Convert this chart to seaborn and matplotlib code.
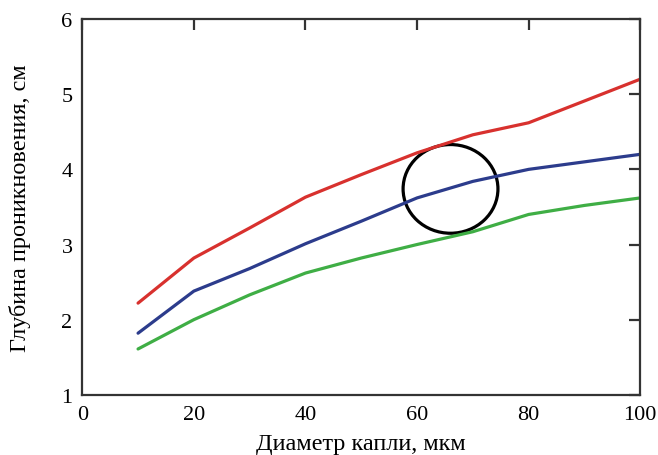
import numpy as np
import pandas as pd
import matplotlib
matplotlib.use('Agg')
import matplotlib.pyplot as plt
import seaborn as sns
from matplotlib.patches import Ellipse

# Values
diameter = [10, 20, 30, 40, 50, 60, 70, 80, 90, 100]
depth_red = [2.22, 2.82, 3.22, 3.63, 3.93, 4.22, 4.46, 4.62, 4.91, 5.2]
depth_blue = [1.82, 2.38, 2.68, 3.01, 3.31, 3.62, 3.84, 4.0, 4.1, 4.2]
depth_green = [1.61, 2.0, 2.33, 2.62, 2.82, 3.0, 3.17, 3.4, 3.52, 3.62]

line_colors = ['#d8312e', '#2c3c8c', '#3fae45']

sns.set_theme(style='white')
plt.rcParams['font.family'] = ['Liberation Serif', 'DejaVu Serif']

df = pd.DataFrame({
    'd': diameter * 3,
    'depth': depth_red + depth_blue + depth_green,
    'series': ['red'] * 10 + ['blue'] * 10 + ['green'] * 10,
})

fig, ax = plt.subplots(figsize=(6.58, 4.56), dpi=100)
fig.subplots_adjust(left=0.125, right=0.973, top=0.956, bottom=0.132)

sns.lineplot(data=df, x='d', y='depth', hue='series', palette=line_colors,
             linewidth=2.3, legend=False, ax=ax)

# circle marking the region of interest
ax.add_patch(Ellipse((66, 3.74), 17, 1.18, fill=False, edgecolor='black', linewidth=2.3))

ax.set_xlim(0, 100)
ax.set_ylim(1, 6)
ax.set_xticks([0, 20, 40, 60, 80, 100])
ax.set_yticks([1, 2, 3, 4, 5, 6])
ax.tick_params(direction='in', length=8, width=1.6, colors='#333333',
               labelcolor='black', labelsize=16, top=True, right=True, pad=7)
for s in ax.spines.values():
    s.set_visible(True)
    s.set_color('#333333')
    s.set_linewidth(1.6)

ax.set_xlabel('Диаметр капли, мкм', fontsize=17.5, labelpad=7, color='black')
ax.set_ylabel('Глубина проникновения, см', fontsize=17.5, labelpad=22, color='black')

fig.savefig('out.png', dpi=100)
